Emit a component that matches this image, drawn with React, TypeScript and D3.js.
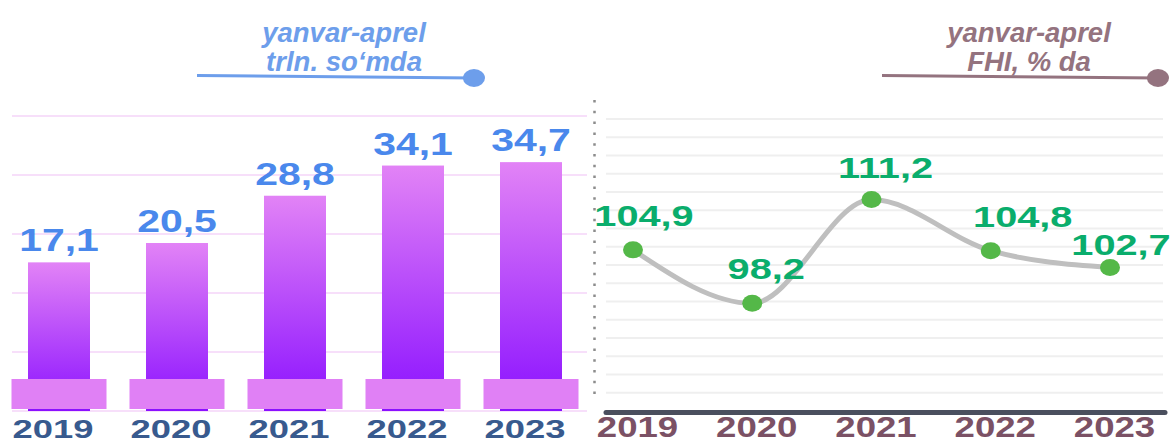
import React from 'react';
import * as d3 from 'd3';

// data
const years = ['2019', '2020', '2021', '2022', '2023'];
const volume = [17.1, 20.5, 28.8, 34.1, 34.7];        // trln. so'm, yanvar-aprel
const growth = [104.9, 98.2, 111.2, 104.8, 102.7];    // FHI, % da
const leftTitle = ['yanvar-aprel', 'trln. so‘mda'];
const rightTitle = ['yanvar-aprel', 'FHI, % da'];

// small nudges for the green labels (dx, dy from the point)
const growthLabelShift = [[11, -24], [14, -24], [14, -22], [32, -24], [11, -12]];

const W = 1173, H = 443;
const FONT = "'Liberation Sans', Arial, sans-serif";

const uz = d3.formatLocale({ decimal: ',', thousands: ' ', grouping: [3], currency: ['', ''] });
const fmt = uz.format('.1f');

function Stretch(props: any) {
  const { x, y, sx, size, fill, children, italic } = props;
  return (
    <text
      transform={`translate(${x},${y}) scale(${sx},1)`}
      textAnchor="middle"
      fontFamily={FONT}
      fontWeight="bold"
      fontStyle={italic ? 'italic' : 'normal'}
      fontSize={size}
      fill={fill}
    >
      {children}
    </text>
  );
}

function Header(props: any) {
  const { lines, cx, x1, x2, color } = props;
  return (
    <g>
      <Stretch x={cx} y={42} sx={1} size={27.5} fill={color} italic>{lines[0]}</Stretch>
      <Stretch x={cx} y={70.5} sx={1} size={27.5} fill={color} italic>{lines[1]}</Stretch>
      <line x1={x1} y1={75.5} x2={x2} y2={78} stroke={color} strokeWidth={3} />
      <ellipse cx={x2} cy={78} rx={11} ry={9} fill={color} />
    </g>
  );
}

export default function App() {
  // left: bars
  const xL = d3.scaleBand().domain(years).range([0, 590]);
  const yL = d3.scaleLinear().domain([-9, 42.8]).range([411, 116]);
  const gridL = d3.scaleLinear().domain([0, 5]).range([411, 116]);
  const bw = xL.bandwidth();
  const barW = 62, baseW = 95;

  // right: line
  const xR = d3.scalePoint().domain(years).range([633, 1110]);
  const yR = d3.scaleLinear().domain([87, 121.3]).range([392.7, 119]);
  const gridR = d3.scaleLinear().domain([0, 15]).range([392.7, 119]);

  const line = d3.line<number>()
    .x((d, i) => xR(years[i]) as number)
    .y(d => yR(d))
    .curve(d3.curveMonotoneX);

  return (
    <svg width={W} height={H} style={{ position: 'absolute', left: 0, top: 0, background: '#fff' }}>
      <defs>
        <linearGradient id="barGrad" x1="0" y1="0" x2="0" y2="1">
          <stop offset="0" stopColor="#e283f6" />
          <stop offset="1" stopColor="#8a10ff" />
        </linearGradient>
      </defs>

      {/* left chart */}
      {d3.range(6).map(i => (
        <line key={'gl' + i} x1={12} x2={587} y1={gridL(i)} y2={gridL(i)} stroke="#f4d4f9" strokeWidth={1.5} />
      ))}
      {volume.map((v, i) => (
        <rect key={'b' + i}
          x={(xL(years[i]) as number) + (bw - barW) / 2}
          y={yL(v)}
          width={barW}
          height={yL.range()[0] - yL(v)}
          fill="url(#barGrad)" />
      ))}
      {years.map((yr, i) => (
        <rect key={'base' + i} x={(xL(yr) as number) + (bw - baseW) / 2} y={379} width={baseW} height={30} fill="#e080f5" />
      ))}
      {volume.map((v, i) => (
        <Stretch key={'vl' + i} x={(xL(years[i]) as number) + bw / 2} y={yL(v) - 11} sx={1.28} size={32} fill="#4a88ec">
          {fmt(v)}
        </Stretch>
      ))}
      {years.map((yr, i) => (
        <Stretch key={'yl' + i} x={(xL(yr) as number) + bw / 2 - 6} y={437.5} sx={1.4} size={26} fill="#385a8e">
          {yr}
        </Stretch>
      ))}

      {/* divider */}
      <line x1={594.5} x2={594.5} y1={100} y2={396} stroke="#8c8c8c" strokeWidth={2.5} strokeDasharray="2.5 8.3" />

      {/* right chart */}
      {d3.range(16).map(i => (
        <line key={'gr' + i} x1={606} x2={1163} y1={gridR(i)} y2={gridR(i)} stroke="#efefef" strokeWidth={2} />
      ))}
      <line x1={606} x2={1165} y1={412.5} y2={412.5} stroke="#4a4f5e" strokeWidth={5} strokeLinecap="round" />
      <path d={line(growth) || ''} fill="none" stroke="#bfbfbf" strokeWidth={5} strokeLinecap="round" />
      {growth.map((v, i) => (
        <ellipse key={'p' + i} cx={xR(years[i])} cy={yR(v)} rx={10} ry={8.5} fill="#54b848" />
      ))}
      {growth.map((v, i) => (
        <Stretch key={'gv' + i}
          x={(xR(years[i]) as number) + growthLabelShift[i][0]}
          y={yR(v) + growthLabelShift[i][1]}
          sx={1.37} size={29} fill="#0aad6c">
          {fmt(v)}
        </Stretch>
      ))}
      {years.map(yr => (
        <Stretch key={'yr' + yr} x={(xR(yr) as number) + 4.5} y={437} sx={1.22} size={30} fill="#7b5165">
          {yr}
        </Stretch>
      ))}

      <Header lines={leftTitle} cx={344} x1={197} x2={474} color="#6d9eeb" />
      <Header lines={rightTitle} cx={1029} x1={882} x2={1158} color="#94737f" />
    </svg>
  );
}
